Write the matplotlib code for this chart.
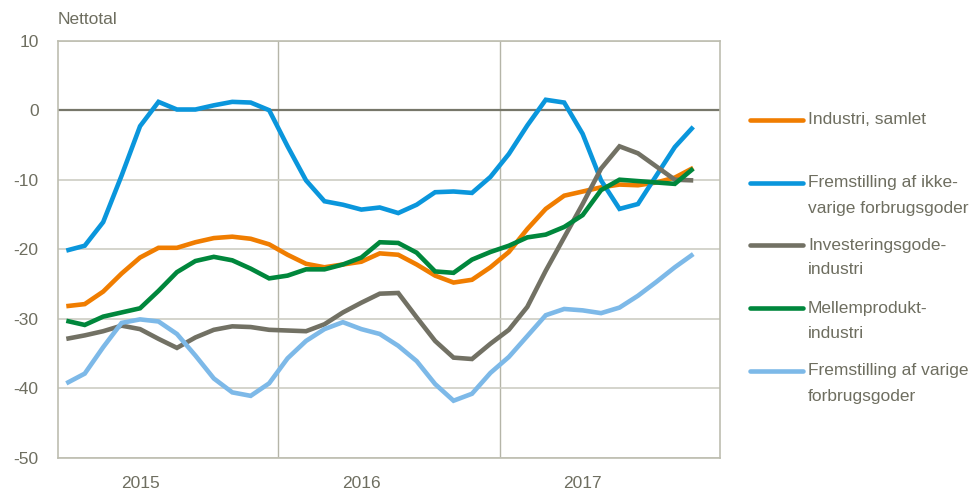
import matplotlib
matplotlib.use("Agg")
import matplotlib.pyplot as plt
from matplotlib.lines import Line2D
import numpy as np

plt.rcParams['font.family'] = ['Liberation Sans', 'DejaVu Sans']

# Monthly observations, Jan 2015 - Nov 2017
n_months = 35
year_labels = ["2015", "2016", "2017"]

industri_samlet = [-28.2, -27.9, -26.1, -23.5, -21.2, -19.8, -19.8, -19.0, -18.4, -18.2, -18.5, -19.3,
                   -20.8, -22.1, -22.6, -22.2, -21.8, -20.6, -20.8, -22.2, -23.8, -24.8, -24.4, -22.6,
                   -20.4, -17.1, -14.2, -12.3, -11.7, -11.1, -10.7, -10.8, -10.4, -9.7, -8.3]
ikke_varige = [-20.2, -19.5, -16.1, -9.4, -2.3, 1.2, 0.1, 0.1, 0.7, 1.2, 1.1, 0.0,
               -5.2, -10.1, -13.1, -13.6, -14.3, -14.0, -14.8, -13.6, -11.8, -11.7, -11.9, -9.6,
               -6.3, -2.2, 1.5, 1.1, -3.4, -10.1, -14.2, -13.5, -9.4, -5.3, -2.4]
investering = [-32.9, -32.4, -31.8, -31.0, -31.5, -32.9, -34.2, -32.7, -31.6, -31.1, -31.2, -31.6,
               -31.7, -31.8, -30.8, -29.1, -27.7, -26.4, -26.3, -29.8, -33.2, -35.6, -35.8, -33.6,
               -31.6, -28.3, -23.1, -18.3, -13.5, -8.4, -5.2, -6.2, -8.1, -10.0, -10.1]
mellemprodukt = [-30.3, -30.9, -29.7, -29.1, -28.5, -26.0, -23.3, -21.7, -21.1, -21.6, -22.8, -24.2,
                 -23.8, -22.9, -22.9, -22.2, -21.2, -19.0, -19.1, -20.5, -23.2, -23.4, -21.5, -20.4,
                 -19.5, -18.3, -17.9, -16.8, -15.1, -11.5, -10.0, -10.2, -10.4, -10.6, -8.4]
varige = [-39.3, -37.9, -34.1, -30.6, -30.1, -30.4, -32.2, -35.3, -38.6, -40.6, -41.1, -39.3,
          -35.7, -33.2, -31.5, -30.5, -31.5, -32.2, -33.9, -36.1, -39.4, -41.8, -40.8, -37.8,
          -35.5, -32.5, -29.5, -28.6, -28.8, -29.2, -28.4, -26.7, -24.7, -22.6, -20.7]

series_labels = [["Industri, samlet"],
                 ["Fremstilling af ikke-", "varige forbrugsgoder"],
                 ["Investeringsgode-", "industri"],
                 ["Mellemprodukt-", "industri"],
                 ["Fremstilling af varige", "forbrugsgoder"]]
series_values = [industri_samlet, ikke_varige, investering, mellemprodukt, varige]
colors = ["#F07D00", "#0A96DC", "#727164", "#00873C", "#7DB9E8"]

text_color = "#6E6E60"
grid_color = "#CDCDC3"

fig = plt.figure(figsize=(9.72, 4.91), dpi=100)
ax = fig.add_axes([58 / 972, 1 - 457.7 / 491, (720 - 58) / 972, (457.7 - 40.7) / 491])

x = np.arange(n_months)
# draw order: light blue, gray, green, orange, blue? keep orange on top near end
draw_order = [4, 2, 3, 1, 0]
for k in draw_order:
    ax.plot(x, series_values[k], color=colors[k], lw=3.3, solid_capstyle='butt',
            solid_joinstyle='miter', zorder=3 + k * 0.01)

ax.set_xlim(-0.45, 35.45)
ax.set_ylim(-50, 10)
ax.set_yticks(np.arange(-50, 11, 10))
ax.set_yticklabels([str(v) for v in range(-50, 11, 10)])
ax.set_xticks([4, 16, 28])
ax.set_xticklabels(year_labels)
ax.set_xticks([11.5, 23.5], minor=True)

ax.grid(axis='y', which='major', color=grid_color, lw=1.2, zorder=1)
ax.grid(axis='x', which='minor', color="#B5B5A8", lw=1.0, zorder=1)
ax.axhline(0, color="#77776A", lw=1.6, zorder=2)

ax.tick_params(axis='both', which='both', length=0, labelsize=12.5, labelcolor=text_color)
ax.tick_params(axis='y', pad=14)
ax.tick_params(axis='x', pad=13)
for s in ax.spines.values():
    s.set_color("#BDBDB0")
    s.set_linewidth(1.2)

fig.text(58 / 972, 1 - 20 / 491, "Nettotal", fontsize=12.5, color=text_color,
         ha='left', va='center')

# legend drawn manually
legend_y = [120, 183, 245, 308, 371]
for k, (yy, lab) in enumerate(zip(legend_y, series_labels)):
    fy = 1 - yy / 491
    fig.add_artist(Line2D([750 / 972, 803 / 972], [fy, fy], color=colors[k], lw=3.3,
                          solid_capstyle='round', transform=fig.transFigure))
    for j, line in enumerate(lab):
        fig.text(808 / 972, 1 - (yy + 25 * j) / 491, line, fontsize=12.5, color=text_color,
                 ha='left', va='center')

fig.savefig("out.png", dpi=100)
